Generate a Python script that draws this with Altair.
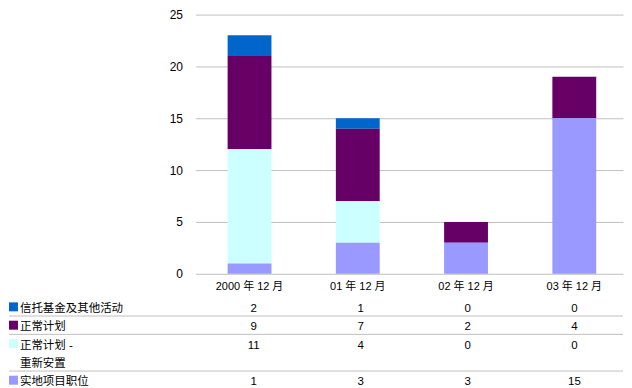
import altair as alt
import pandas as pd

categories = ["2000 年 12 月", "01 年 12 月", "02 年 12 月", "03 年 12 月"]
series_keys = ["信托基金及其他活动", "正常计划", "正常计划 - 重新安置", "实地项目职位"]
series_label_lines = [["信托基金及其他活动"], ["正常计划"], ["正常计划 -", "重新安置"], ["实地项目职位"]]
series_colors = ["#0066CC", "#660066", "#CCFFFF", "#9999FF"]
trust = [2, 1, 0, 0]
regular = [9, 7, 2, 4]
relocation = [11, 4, 0, 0]
field_posts = [1, 3, 3, 15]
y_ticks = [0, 5, 10, 15, 20, 25]

series_values = [trust, regular, relocation, field_posts]
FONT = "Liberation Sans, Noto Sans CJK SC, sans-serif"

# long table for bars
rows = []
for i, (key, vals) in enumerate(zip(series_keys, series_values)):
    for cat, v in zip(categories, vals):
        rows.append({"category": cat, "series": key, "value": v, "stack": len(series_keys) - i})
df = pd.DataFrame(rows)

# table layout (in "line" units)
line_counts = [len(l) for l in series_label_lines]
starts = []
acc = 0
for n in line_counts:
    starts.append(acc)
    acc += n
total_lines = acc

label_rows = []
for key, lines, s in zip(series_keys, series_label_lines, starts):
    for k, txt in enumerate(lines):
        label_rows.append({"series": key, "label": txt, "ly": s + k + 0.5})
label_df = pd.DataFrame(label_rows)
square_df = pd.DataFrame({"series": series_keys, "sy": [s + 0.5 for s in starts]})
sep_df = pd.DataFrame({"sep": starts[1:]})
val_rows = []
for key, vals, s in zip(series_keys, series_values, starts):
    for cat, v in zip(categories, vals):
        val_rows.append({"category": cat, "series": key, "value": v, "ypos": s + 0.5})
val_df = pd.DataFrame(val_rows)

PLOT_W = 429
xscale = alt.Scale(domain=categories, paddingInner=0.595, paddingOuter=0.2726, align=0.546)
cscale = alt.Scale(domain=series_keys, range=series_colors)

bars = alt.Chart(df).mark_bar().encode(
    x=alt.X("category:N", scale=xscale, sort=categories,
            axis=alt.Axis(title=None, labelAngle=0, domain=False, ticks=False, grid=False,
                          labelPadding=7, labelFontSize=11, labelFont=FONT, labelColor="#000000")),
    y=alt.Y("value:Q", stack="zero", scale=alt.Scale(domain=[0, 25], nice=False),
            axis=alt.Axis(title=None, values=y_ticks, domain=False, ticks=False, labelPadding=13,
                          gridColor="#c0c0c0", labelFontSize=12, labelFont=FONT, labelColor="#000000")),
    color=alt.Color("series:N", scale=cscale, legend=None),
    order=alt.Order("stack:Q"),
).properties(width=PLOT_W, height=260)

TAB_H = 92
yscale = alt.Scale(domain=[0, total_lines], range=[0, TAB_H], nice=False, zero=False)

rules = alt.Chart(sep_df).mark_rule(color="#c0c0c0", strokeWidth=1).encode(
    y=alt.Y("sep:Q", scale=yscale, axis=None),
    x=alt.value(-187),
    x2=alt.value(PLOT_W),
)
squares = alt.Chart(square_df).mark_square(size=81, opacity=1).encode(
    x=alt.value(-182.5),
    y=alt.Y("sy:Q", scale=yscale, axis=None),
    color=alt.Color("series:N", scale=cscale, legend=None),
)
labels = alt.Chart(label_df).mark_text(
    align="left", baseline="middle", dy=2, fontSize=11.5, font=FONT, color="#000000",
).encode(
    x=alt.value(-176),
    y=alt.Y("ly:Q", scale=yscale, axis=None),
    text="label:N",
)
values = alt.Chart(val_df).mark_text(
    align="center", baseline="middle", dy=2, fontSize=11.5, font=FONT, color="#000000",
).encode(
    x=alt.X("category:N", scale=xscale, sort=categories, axis=None),
    y=alt.Y("ypos:Q", scale=yscale, axis=None),
    text="value:Q",
)
table = alt.layer(rules, squares, labels, values).properties(width=PLOT_W, height=TAB_H)

chart = alt.vconcat(bars, table, spacing=6).configure_view(stroke=None).properties(padding=0)

chart.save("out.html", embed_options={"renderer": "svg", "actions": False})
